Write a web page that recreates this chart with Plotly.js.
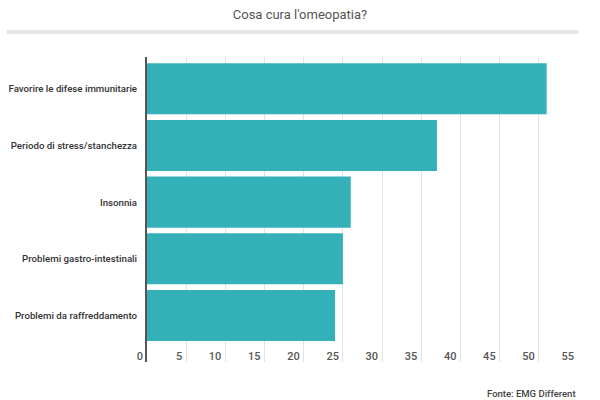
<!DOCTYPE html>
<html>
<head>
<meta charset="utf-8">
<script src="https://cdn.plot.ly/plotly-3.0.1.min.js"></script>
<style>
  html, body { margin: 0; padding: 0; background: #fff; }
  #chart { width: 600px; height: 400px; }
</style>
</head>
<body>
<div id="chart"></div>
<script>
// Cosa cura l'omeopatia? --------------------------------------------------------
const categories = [
    'Favorire le difese immunitarie',
    'Periodo di stress/stanchezza',
    'Insonnia',
    'Problemi gastro-intestinali',
    'Problemi da raffreddamento',
];
const values = [51, 37, 26, 25, 24];
const xTicks = [0, 5, 10, 15, 20, 25, 30, 35, 40, 45, 50, 55];

const teal = '#33b0b8';
const font = 'Roboto, "Noto Sans", sans-serif';

Plotly.newPlot('chart', [{
    type: 'bar', orientation: 'h',
    y: categories, x: values,
    marker: { color: teal },
    hoverinfo: 'x+y',
}], {
    width: 600, height: 400,
    paper_bgcolor: '#fff', plot_bgcolor: '#fff',
    font: { family: font, color: '#444', size: 11 },
    margin: { l: 147, r: 22, t: 57, b: 38 },
    bargap: 0.1,
    showlegend: false,
    title: {
        text: "Cosa cura l'omeopatia?",
        x: 0.5, xanchor: 'center', y: 0.965, yanchor: 'middle',
        font: { family: font, size: 13, color: '#555' },
    },
    xaxis: {
        range: [0, 55],
        tickvals: xTicks,
        ticktext: xTicks.map(String),
        showgrid: true, gridcolor: '#e2e2e2', gridwidth: 1,
        zeroline: false, showline: false,
        ticks: '',
        ticklabelposition: 'outside left',
        ticklabelstandoff: -14,
        ticklabelshift: -4,
        tickfont: { family: font, size: 11, color: '#555', weight: 500 },
        fixedrange: true,
    },
    yaxis: {
        type: 'category',
        range: [4.82, -0.56],
        showgrid: false, zeroline: false,
        showline: true, linecolor: '#555', linewidth: 2,
        ticks: '', ticklabelstandoff: 6,
        tickfont: { family: font, size: 9.7, color: '#333', weight: 500 },
        fixedrange: true,
    },
    shapes: [{
        type: 'line', xref: 'paper', yref: 'paper',
        x0: -140 / 431, x1: 1, y0: 1 + 25 / 305, y1: 1 + 25 / 305,
        line: { color: '#e4e4e4', width: 4 },
    }],
    annotations: [{
        text: 'Fonte: EMG Different',
        xref: 'paper', yref: 'paper', x: 1, y: -31 / 305,
        xanchor: 'right', yanchor: 'middle', showarrow: false,
        font: { family: font, size: 9.5, color: '#444', weight: 500 },
    }],
}, { displayModeBar: false, staticPlot: true });
</script>
</body>
</html>
